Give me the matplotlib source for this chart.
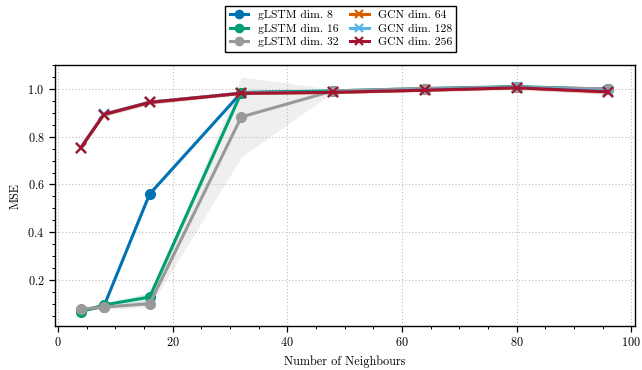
import numpy as np
import matplotlib.pyplot as plt
from matplotlib.ticker import MultipleLocator

plt.rcParams['font.family'] = 'serif'
plt.rcParams['font.serif'] = ['cmr10', 'DejaVu Serif']
plt.rcParams['mathtext.fontset'] = 'cm'
plt.rcParams['axes.formatter.use_mathtext'] = True
plt.rcParams['font.size'] = 8.8

# number of neighbours
neigh = [4, 8, 16, 32, 48, 64, 80, 96]

# mean MSE and spread per model
lstm8 = [0.072, 0.088, 0.560, 0.985, 0.990, 1.000, 1.008, 0.998]
lstm8_sd = [0.004, 0.004, 0.006, 0.004, 0.003, 0.003, 0.003, 0.004]
lstm16 = [0.067, 0.095, 0.128, 0.985, 0.992, 1.002, 1.010, 0.999]
lstm16_sd = [0.004, 0.006, 0.020, 0.006, 0.003, 0.003, 0.003, 0.004]
lstm32 = [0.078, 0.086, 0.100, 0.883, 0.992, 1.002, 1.008, 1.000]
lstm32_sd = [0.006, 0.010, 0.015, 0.168, 0.006, 0.004, 0.004, 0.004]
gcn64 = [0.754, 0.893, 0.944, 0.982, 0.986, 0.995, 1.005, 0.989]
gcn128 = [0.754, 0.894, 0.945, 0.983, 0.987, 0.997, 1.007, 0.992]
gcn256 = [0.753, 0.893, 0.944, 0.982, 0.986, 0.995, 1.005, 0.988]
gcn_sd = [0.004, 0.008, 0.008, 0.006, 0.006, 0.006, 0.007, 0.010]

labels = ['gLSTM dim. 8', 'gLSTM dim. 16', 'gLSTM dim. 32',
          'GCN dim. 64', 'GCN dim. 128', 'GCN dim. 256']
colors = ['#0072B2', '#009E73', '#999999', '#D55E00', '#56B4E9', '#A2142F']

fig = plt.figure(figsize=(6.42, 3.70), dpi=100)
ax = fig.add_axes([0.0857, 0.119, 0.903, 0.705])

x = np.array(neigh)
series = [(lstm8, lstm8_sd, 'o'), (lstm16, lstm16_sd, 'o'), (lstm32, lstm32_sd, 'o'),
          (gcn64, gcn_sd, 'x'), (gcn128, gcn_sd, 'x'), (gcn256, gcn_sd, 'x')]

handles = []
for (m, s, mk), lab, col in zip(series, labels, colors):
    m = np.array(m)
    s = np.array(s)
    ax.fill_between(x, m - s, m + s, color=col, alpha=0.15, lw=0)
    if mk == 'o':
        h, = ax.plot(x, m, color=col, marker='o', ms=7, lw=2.2, label=lab)
    else:
        h, = ax.plot(x, m, color=col, marker='x', ms=7, mew=1.6, lw=2.2, label=lab)
    handles.append(h)

ax.set_xlim(-0.5, 100.6)
ax.set_ylim(0.007, 1.10)
ax.xaxis.set_major_locator(MultipleLocator(20))
ax.xaxis.set_minor_locator(MultipleLocator(5))
ax.yaxis.set_major_locator(MultipleLocator(0.2))
ax.yaxis.set_minor_locator(MultipleLocator(0.05))
ax.tick_params(which='both', direction='out', top=False, right=False)
ax.tick_params(which='major', length=4, width=0.9)
ax.tick_params(which='minor', length=2.2, width=0.7)
for sp in ax.spines.values():
    sp.set_linewidth(1.0)
ax.grid(True, which='major', ls=(0, (1, 2)), color='#bdbdbd', lw=0.8)
ax.set_xlabel('Number of Neighbours')
ax.set_ylabel('MSE')

# legend order: column-wise
leg = fig.legend(handles=handles, loc='upper center', bbox_to_anchor=(0.531, 1.0),
                 ncol=2, frameon=True, fancybox=False, edgecolor='black',
                 framealpha=1, handlelength=1.6, columnspacing=1.0,
                 labelspacing=0.3, borderpad=0.35, fontsize=8.4, markerscale=0.85)
leg.get_frame().set_linewidth(1.0)

fig.savefig('out.png', dpi=100)
